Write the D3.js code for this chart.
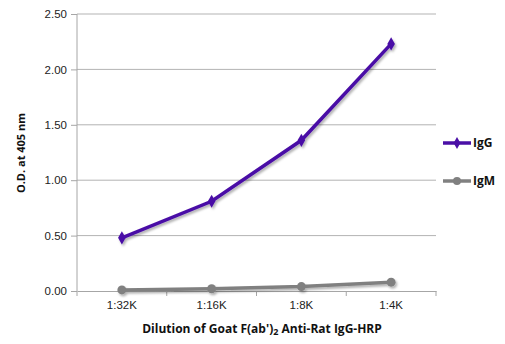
<!DOCTYPE html>
<html>
<head>
<meta charset="utf-8">
<script src="https://cdn.jsdelivr.net/npm/d3@7"></script>
<style>
  body { margin: 0; background: #fff; }
  svg { font-family: "Open Sans", "Liberation Sans", sans-serif; }
</style>
</head>
<body>
<script>
// data
var dilutions = ["1:32K", "1:16K", "1:8K", "1:4K"];
var igg = [0.48, 0.81, 1.36, 2.23];
var igm = [0.01, 0.02, 0.04, 0.08];
var yTicks = [0, 0.5, 1.0, 1.5, 2.0, 2.5];
var seriesNames = ["IgG", "IgM"];

var margin = {top: 14, right: 69, bottom: 53, left: 77},
    width = 505 - margin.left - margin.right,
    height = 344 - margin.top - margin.bottom;

var x = d3.scaleBand().domain(dilutions).range([0, width]);
var y = d3.scaleLinear().domain([0, 2.5]).range([height, 0]);

var svg = d3.select("body").append("svg")
    .attr("width", 505)
    .attr("height", 344);

var defs = svg.append("defs");
var f = defs.append("filter").attr("id", "shadow")
    .attr("x", "-10%").attr("y", "-10%").attr("width", "130%").attr("height", "140%");
f.append("feDropShadow").attr("dx", 1.5).attr("dy", 2).attr("stdDeviation", 1.2)
    .attr("flood-color", "#000").attr("flood-opacity", 0.3);

var g = svg.append("g")
    .attr("transform", "translate(" + margin.left + "," + margin.top + ")");

// gridlines
g.selectAll(".grid")
    .data(yTicks.slice(1))
    .enter().append("line")
    .attr("x1", 0).attr("x2", width)
    .attr("y1", function(d) { return y(d); })
    .attr("y2", function(d) { return y(d); })
    .attr("stroke", "#b3b3b3").attr("stroke-width", 1);

// y axis
var yAxis = g.append("g")
    .call(d3.axisLeft(y).tickValues(yTicks).tickFormat(d3.format(".2f")).tickSize(6).tickPadding(4));
yAxis.select(".domain").attr("stroke", "#a6a6a6").attr("d", "M0," + height + "V0");
yAxis.selectAll(".tick line").attr("stroke", "#a6a6a6");
yAxis.selectAll("text").style("font-size", "11.5px").attr("fill", "#222");

// x axis
var xAxis = g.append("g")
    .attr("transform", "translate(0," + height + ")")
    .call(d3.axisBottom(x).tickSize(0).tickPadding(10));
xAxis.select(".domain").attr("stroke", "#a6a6a6");
xAxis.selectAll("text").style("font-size", "11.5px").attr("fill", "#222");
// tick marks between categories
g.selectAll(".xtick")
    .data(dilutions.concat(["end"]))
    .enter().append("line")
    .attr("x1", function(d, i) { return i * x.bandwidth(); })
    .attr("x2", function(d, i) { return i * x.bandwidth(); })
    .attr("y1", height).attr("y2", height + 5)
    .attr("stroke", "#a6a6a6");

var line = d3.line()
    .x(function(d, i) { return x(dilutions[i]) + x.bandwidth() / 2; })
    .y(function(d) { return y(d); });

var series = [
  {name: seriesNames[0], values: igg, color: "#4a0fa6"},
  {name: seriesNames[1], values: igm, color: "#808080"}
];

series.slice().reverse().forEach(function(s) {
  var sg = g.append("g").attr("filter", "url(#shadow)");
  sg.append("path")
      .attr("d", line(s.values))
      .attr("fill", "none")
      .attr("stroke", s.color)
      .attr("stroke-width", 3.5);
  if (s.name === "IgG") {
    sg.selectAll(".pt").data(s.values).enter().append("path")
        .attr("d", d3.symbol().type(d3.symbolDiamond).size(50))
        .attr("transform", function(d, i) {
          return "translate(" + (x(dilutions[i]) + x.bandwidth() / 2) + "," + y(d) + ")";
        })
        .attr("fill", s.color);
  } else {
    sg.selectAll(".pt").data(s.values).enter().append("circle")
        .attr("cx", function(d, i) { return x(dilutions[i]) + x.bandwidth() / 2; })
        .attr("cy", function(d) { return y(d); })
        .attr("r", 4.5)
        .attr("fill", s.color);
  }
});

// legend
var legend = svg.append("g");
series.forEach(function(s, i) {
  var ly = 143 + i * 38;
  legend.append("line")
      .attr("x1", 443).attr("x2", 471)
      .attr("y1", ly).attr("y2", ly)
      .attr("stroke", s.color).attr("stroke-width", 3.5);
  if (i === 0) {
    legend.append("path")
        .attr("d", d3.symbol().type(d3.symbolDiamond).size(40))
        .attr("transform", "translate(457," + ly + ")")
        .attr("fill", s.color);
  } else {
    legend.append("circle").attr("cx", 457).attr("cy", ly).attr("r", 4).attr("fill", s.color);
  }
  legend.append("text")
      .attr("x", 473).attr("y", ly).attr("dy", "0.35em")
      .style("font-size", "12px").style("font-weight", "bold")
      .attr("fill", "#111")
      .text(s.name);
});

// y axis label
svg.append("text")
    .attr("transform", "rotate(-90)")
    .attr("x", -153).attr("y", 25)
    .style("text-anchor", "middle")
    .style("font-size", "11px").style("font-weight", "bold")
    .attr("fill", "#111")
    .text("O.D. at 405 nm");

// x axis label
var xt = svg.append("text")
    .attr("x", 262).attr("y", 333)
    .style("text-anchor", "middle")
    .style("font-size", "12px").style("font-weight", "bold")
    .attr("fill", "#111");
xt.append("tspan").text("Dilution of Goat F(ab')");
xt.append("tspan").attr("dy", 2).style("font-size", "9px").text("2");
xt.append("tspan").attr("dy", -2).text(" Anti-Rat IgG-HRP");
</script>
</body>
</html>
